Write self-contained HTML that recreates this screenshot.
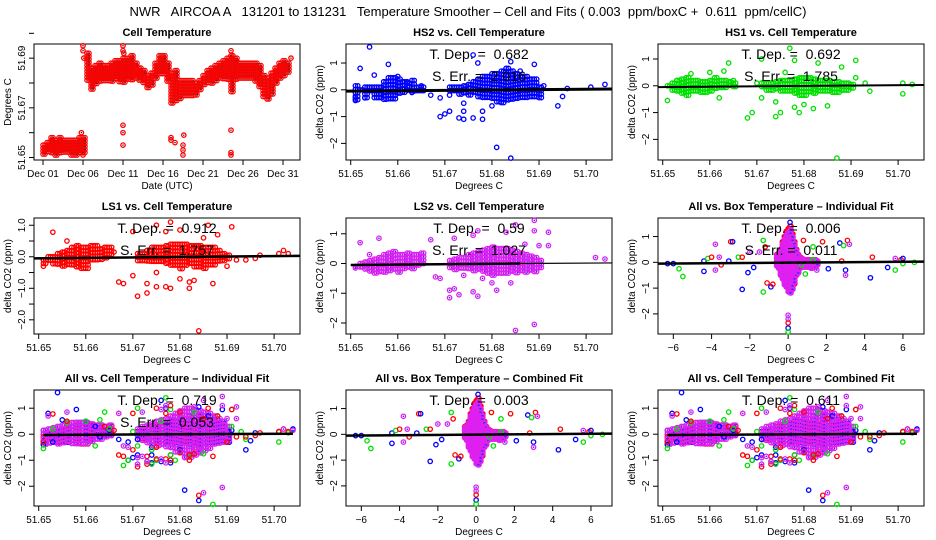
<!DOCTYPE html>
<html><head><meta charset="utf-8"><style>
html,body{margin:0;padding:0;background:#fff;}
svg{display:block;font-family:"Liberation Sans",Arial,sans-serif;}
.pre{white-space:pre;}
</style></head><body>
<svg id="chart" width="936" height="540" viewBox="0 0 936 540">
<text class="pre" xml:space="preserve" x="468" y="16" text-anchor="middle" font-size="13">NWR   AIRCOA A   131201 to 131231   Temperature Smoother – Cell and Fits ( 0.003  ppm/boxC +  0.611  ppm/cellC)</text>
</svg>
<script>
// ---- Panel 1 (cell temperature time series): day index, low and high values ----
const tsDays=[0,0.5,1,1.5,2,2.5,3,3.5,4,4.5,5,5.5,6,6.5,7,7.5,8,8.5,9,9.5,10,10.5,11,11.5,12,12.5,13,13.5,14,14.5,15,15.5,16,16.5,17,17.5,18,18.5,19,19.5,20,20.5,21,21.5,22,22.5,23,23.5,24,24.5,25,25.5,26,26.5,27,27.5,28,28.5,29,29.5,30,30.5];
const tsLo=[51.651,51.652,51.652,51.651,51.652,51.652,51.652,51.651,51.651,51.652,51.652,51.681,51.677,51.679,51.680,51.681,51.681,51.680,51.681,51.680,51.680,51.681,51.681,51.681,51.681,51.680,51.678,51.679,51.682,51.683,51.683,51.680,51.671,51.672,51.673,51.674,51.674,51.675,51.675,51.677,51.679,51.680,51.680,51.681,51.681,51.681,51.681,51.676,51.681,51.681,51.681,51.681,51.681,51.680,51.678,51.674,51.673,51.675,51.679,51.681,51.682,51.684];
const tsHi=[51.655,51.656,51.658,51.657,51.658,51.657,51.657,51.657,51.657,51.658,51.658,51.692,51.686,51.687,51.688,51.687,51.687,51.688,51.689,51.689,51.690,51.690,51.691,51.688,51.686,51.685,51.683,51.684,51.688,51.691,51.691,51.688,51.684,51.685,51.681,51.681,51.681,51.681,51.680,51.681,51.683,51.685,51.686,51.687,51.688,51.689,51.690,51.691,51.690,51.688,51.688,51.688,51.688,51.688,51.687,51.683,51.682,51.684,51.686,51.688,51.689,51.688];
const tsSpikeX=[4.8,5.0,5.0,5.0,5.0,5.1,10.0,10.0,10.0,10.0,10.0,10.1,16.0,16.0,16.5,17.5,17.5,17.5,17.6,23.5,23.5,23.5,23.5,23.5,31.0];
const tsSpikeY=[51.660,51.695,51.693,51.651,51.652,51.690,51.695,51.693,51.663,51.660,51.655,51.692,51.657,51.658,51.656,51.651,51.653,51.655,51.659,51.693,51.691,51.661,51.652,51.651,51.690];

// ---- Cell-temperature scatter panels: dense band (x, low, high) per instrument ----
const bandX=[51.651,51.652,51.653,51.654,51.655,51.656,51.657,51.658,51.659,51.660,51.661,51.662,51.663,51.664,51.665,51.671,51.672,51.673,51.674,51.675,51.676,51.677,51.678,51.679,51.680,51.681,51.682,51.683,51.684,51.685,51.686,51.687,51.688,51.689,51.690];
const hs2Lo=[-0.4,-0.1,-0.3,-0.1,-0.35,-0.3,-0.35,-0.4,-0.35,-0.2,-0.1,-0.1,-0.15,-0.1,-0.05,-0.1,-0.1,-0.2,-0.15,-0.2,-0.2,-0.3,-0.3,-0.35,-0.4,-0.45,-0.5,-0.45,-0.4,-0.4,-0.4,-0.35,-0.3,-0.3,-0.3];
const hs2Hi=[0.15,0,0.1,0.1,0.1,0.1,0.3,0.45,0.45,0.4,0.3,0.25,0.35,0.1,0.1,0.1,0.1,0.1,0.15,0.2,0.3,0.4,0.5,0.5,0.6,0.6,0.7,0.8,0.7,0.6,0.5,0.5,0.4,0.4,0.1];
const hs1Lo=[-0.1,-0.2,-0.25,-0.3,-0.35,-0.3,-0.25,-0.25,-0.25,-0.2,-0.2,-0.15,-0.15,-0.1,-0.1,-0.15,-0.2,-0.2,-0.2,-0.25,-0.3,-0.3,-0.3,-0.35,-0.35,-0.3,-0.3,-0.3,-0.3,-0.3,-0.3,-0.25,-0.2,-0.25,-0.2];
const hs1Hi=[0.0,0.1,0.2,0.25,0.3,0.2,0.2,0.15,0.15,0.2,0.3,0.2,0.2,0.15,0.1,0.1,0.1,0.1,0.15,0.2,0.2,0.2,0.25,0.3,0.3,0.3,0.25,0.2,0.2,0.2,0.15,0.15,0.1,0.1,0.05];
const ls1Lo=[-0.3,-0.15,-0.25,-0.3,-0.3,-0.25,-0.3,-0.35,-0.4,-0.4,-0.2,-0.15,-0.1,-0.05,0.0,-0.15,-0.2,-0.2,-0.2,-0.25,-0.25,-0.3,-0.3,-0.35,-0.4,-0.35,-0.3,-0.35,-0.35,-0.4,-0.35,-0.3,-0.2,-0.15,-0.1];
const ls1Hi=[-0.1,0.0,0.0,0.1,0.15,0.2,0.3,0.35,0.3,0.3,0.35,0.35,0.25,0.3,0.3,0.1,0.1,0.2,0.3,0.3,0.3,0.35,0.4,0.4,0.4,0.4,0.35,0.35,0.35,0.3,0.3,0.3,0.2,0.1,0.05];
const ls2Lo=[-0.15,-0.2,-0.2,-0.25,-0.35,-0.3,-0.35,-0.35,-0.3,-0.3,-0.25,-0.2,-0.2,-0.15,-0.1,-0.15,-0.2,-0.2,-0.25,-0.25,-0.3,-0.3,-0.35,-0.35,-0.4,-0.4,-0.35,-0.35,-0.35,-0.4,-0.35,-0.35,-0.3,-0.3,-0.2];
const ls2Hi=[-0.1,0.0,0.05,0.1,0.15,0.2,0.3,0.35,0.4,0.3,0.3,0.35,0.3,0.3,0.35,0.1,0.15,0.2,0.2,0.3,0.35,0.4,0.45,0.5,0.55,0.5,0.5,0.5,0.45,0.4,0.35,0.3,0.25,0.2,0.1];
const allLo=[-0.4,-0.35,-0.4,-0.4,-0.4,-0.4,-0.4,-0.4,-0.4,-0.45,-0.35,-0.3,-0.3,-0.2,-0.15,-0.3,-0.35,-0.4,-0.4,-0.45,-0.5,-0.55,-0.6,-0.7,-0.8,-0.95,-1.0,-0.9,-0.8,-0.7,-0.6,-0.5,-0.45,-0.4,-0.3];
const allHi=[0.15,0.2,0.25,0.3,0.35,0.4,0.45,0.45,0.45,0.45,0.4,0.35,0.35,0.3,0.35,0.2,0.3,0.35,0.4,0.5,0.55,0.6,0.7,0.8,0.9,1.0,1.0,0.95,0.9,0.85,0.8,0.7,0.6,0.5,0.3];

// ---- Outliers per instrument (cell temperature, delta CO2) ----
const hs2X=[51.654,51.652,51.651,51.651,51.653,51.655,51.658,51.660,51.662,51.663,51.665,51.667,51.669,51.669,51.670,51.671,51.673,51.674,51.674,51.676,51.677,51.676,51.678,51.678,51.680,51.681,51.684,51.684,51.686,51.689,51.691,51.694,51.695,51.696,51.701,51.704,51.674,51.671];
const hs2Y=[1.6,0.8,-0.3,-0.4,-0.3,0.55,0.95,0.5,0.3,-0.1,0.15,-0.2,-0.3,-1.0,-0.9,-0.8,-1.05,-1.1,-0.8,1.3,1.0,-1.05,-1.1,-0.8,-0.6,-2.15,-2.55,1.05,0.7,0.95,0.15,-0.6,-0.25,0.05,0.1,0.2,-0.5,-0.2];
const hs1X=[51.651,51.653,51.656,51.660,51.662,51.663,51.664,51.665,51.668,51.669,51.670,51.671,51.671,51.674,51.675,51.674,51.677,51.678,51.678,51.679,51.680,51.682,51.683,51.685,51.687,51.688,51.691,51.691,51.693,51.694,51.701,51.701,51.703,51.676];
const hs1Y=[-0.55,0.2,0.45,0.5,-0.45,0.55,0.85,0.2,-1.2,-1.0,0.1,1.0,-0.45,-1.15,-1.0,-0.6,1.4,-0.8,0.95,-1.0,-0.7,-0.85,0.85,-0.75,-2.7,0.7,0.95,0.3,0.1,-0.2,0.1,-0.3,0.05,0.5];
const ls1X=[51.653,51.651,51.651,51.656,51.664,51.666,51.667,51.668,51.670,51.670,51.671,51.673,51.673,51.675,51.675,51.677,51.678,51.678,51.677,51.680,51.680,51.682,51.682,51.683,51.684,51.685,51.686,51.687,51.688,51.691,51.692,51.694,51.696,51.697,51.701,51.702,51.703,51.675,51.690];
const ls1Y=[0.78,-0.3,-0.1,0.5,0.3,0.15,-0.8,-0.85,-0.6,0.8,-1.25,-0.85,-1.15,-0.95,1.0,0.8,1.1,-1.0,-0.95,-0.7,0.85,-0.8,-1.0,-0.75,-2.35,0.6,1.0,-0.85,0.7,0.95,-0.1,-0.1,-0.05,0.05,0.1,0.2,0.1,-0.5,-0.3];
const ls2X=[51.651,51.652,51.654,51.656,51.667,51.668,51.669,51.671,51.671,51.672,51.673,51.674,51.672,51.676,51.677,51.676,51.677,51.678,51.680,51.681,51.683,51.685,51.685,51.687,51.689,51.689,51.689,51.690,51.692,51.692,51.702,51.704,51.684];
const ls2Y=[-0.15,0.7,0.3,0.85,0.8,-0.45,-0.5,-0.9,-1.15,-0.85,-1.05,-0.4,0.85,0.95,1.1,-0.95,-1.1,-0.5,-0.65,-0.9,1.05,1.3,-2.25,0.65,1.45,1.1,-2.05,0.6,1.05,0.6,0.2,0.15,-0.65];

// ---- Box-temperature panels: dense spike band and outliers ----
const boxBandX=[-0.6,-0.5,-0.4,-0.3,-0.2,-0.1,0.0,0.1,0.2,0.3,0.4,0.5,0.6,0.7,0.8,0.9,1.0,1.1,1.2,1.3,1.4,1.5];
const boxBandLo=[-0.2,-0.3,-0.5,-0.7,-0.9,-1.0,-1.15,-1.2,-1.1,-0.9,-0.6,-0.45,-0.35,-0.25,-0.2,-0.2,-0.2,-0.2,-0.25,-0.3,-0.3,-0.2];
const boxBandHi=[0.3,0.35,0.5,0.8,1.0,1.2,1.3,1.4,1.1,0.8,0.5,0.3,0.2,0.15,0.1,0.1,0.1,0.1,0.05,0.1,0.1,0.05];
const boxX=[-6.3,-6.0,-5.7,-5.5,-4.4,-4.4,-4.2,-4.0,-3.8,-3.8,-3.6,-3.5,-3.0,-2.9,-3.1,-2.6,-2.4,-2.4,-2.1,-2.0,-1.8,-1.5,-1.3,-1.3,-1.2,-1.1,-0.9,-0.8,0,0,0,0,0,0.1,0.8,0.7,0.9,1.3,1.3,1.5,1.8,2.1,2.8,2.7,2.9,3.0,3.0,3.1,3.2,4.3,4.4,5.2,5.6,5.6,5.9,6.0,6.0,6.6];
const boxY=[-0.05,-0.05,-0.25,-0.55,0.05,-0.35,0.15,0.2,0.7,-0.3,0.2,-0.1,0.8,0.8,0.05,0.2,-1.05,0.2,-0.4,0.4,-0.2,0.4,0.85,-1.15,0.6,-0.8,-0.95,-0.85,-2.05,-2.2,-2.35,-2.55,-2.7,1.55,0.85,-0.1,-0.45,0.6,0.1,-0.3,0.8,-0.25,0.05,0.75,0.65,-0.3,-0.5,0.85,0.7,-0.6,0.2,-0.2,0.15,-0.3,0.1,0.15,-0.05,0.0];
const boxC=["b","b","g","g","b","b","g","r","m","m","m","r","r","b","b","g","b","r","b","m","b","m","g","g","r","r","b","r","m","m","r","b","g","b","r","g","g","g","g","m","r","b","r","b","g","b","m","r","m","b","r","b","m","g","r","b","g","g"];

const COL={b:"#0000ff",g:"#00e000",r:"#ff0000",m:"#e020f0"};
const svg=document.getElementById('chart');
const NS="http://www.w3.org/2000/svg";
const VSTEP=3.5;
function el(tag,attrs,parent){const e=document.createElementNS(NS,tag);for(const k in attrs)e.setAttribute(k,attrs[k]);(parent||svg).appendChild(e);return e;}
function txt(x,y,s,size,anchor,parent,rot,weight){const t=el('text',{x:x,y:y,'font-size':size,'text-anchor':anchor||'middle'},parent);if(rot)t.setAttribute('transform','rotate(-90 '+x+' '+y+')');if(weight)t.setAttribute('font-weight',weight);t.textContent=s;return t;}

function makePanel(name,L,T,W,H,xlim,ylim){
  const g=el('g',{},svg);
  
  
  const X=v=>L+(v-xlim[0])/(xlim[1]-xlim[0])*W;
  const Y=v=>T+H-(v-ylim[0])/(ylim[1]-ylim[0])*H;
  return {g,X,Y,L,T,W,H};
}
function frame(p,title,xlabel,ylabel,xticks,xlabs,yticks,ylabs){
  const r=el('rect',{x:p.L,y:p.T,width:p.W,height:p.H,fill:'none',stroke:'#000','stroke-width':1},p.g);
  
  
  const t=txt(p.L+p.W/2,p.T-8,title,11,'middle',p.g,false,'bold');
  
  
  xticks.forEach((v,i)=>{const x=p.X(v);el('line',{x1:x,y1:p.T+p.H,x2:x,y2:p.T+p.H+5,stroke:'#000'},p.g);
    if(xlabs[i]!==''){const l=txt(x,p.T+p.H+17,xlabs[i],10,'middle',p.g);}});
  yticks.forEach((v,i)=>{const y=p.Y(v);el('line',{x1:p.L,y1:y,x2:p.L-5,y2:y,stroke:'#000'},p.g);
    if(ylabs[i]!==''){const l=txt(p.L-9,y,ylabs[i],10,'middle',p.g,true);}});
  const xl=txt(p.L+p.W/2,p.T+p.H+29,xlabel,10,'middle',p.g);
  
  
  const yl=txt(p.L-23,p.T+p.H/2,ylabel,10,'middle',p.g,true);
  
  
}
function pt(p,x,y,c){
  const e=el('circle',{cx:p.X(x),cy:p.Y(y),r:2.2,fill:'none',stroke:COL[c],'stroke-width':1.3},p.g);
  
  
  if(c==='m'){el('circle',{cx:p.X(x),cy:p.Y(y),r:0.8,fill:'#2030ff'},p.g);}
  if(c==='r'&&p.dark){el('circle',{cx:p.X(x),cy:p.Y(y),r:0.7,fill:'#300'},p.g);}
}
function band(p,xs,lo,hi,c,dx){
  xs.forEach((x,i)=>{[0,0.5].forEach(s=>{const xv=x+s*dx;const y1=p.Y(hi[i]),y2=p.Y(lo[i]);
    for(let y=y1;y<=y2+0.1;y+=VSTEP){const e=el('circle',{cx:p.X(xv),cy:y,r:2.2,fill:'none',stroke:COL[c],'stroke-width':1.3},p.g);
      
      
      if(c==='m')el('circle',{cx:p.X(xv),cy:y,r:0.8,fill:'#2030ff'},p.g);}});});
}
function fit(p,x0,y0,x1,y1,w){const l=el('line',{x1:p.X(x0),y1:p.Y(y0),x2:p.X(x1),y2:p.Y(y1),stroke:'#000','stroke-width':w},p.g);
  
  }
function stats(p,a,b){const t=txt(p.L+p.W/2,p.T+15,a,14,'middle',p.g);t.setAttribute('class','pre');
  if(b){const s=txt(p.L+p.W/2,p.T+37,b,14,'middle',p.g);s.setAttribute('class','pre');}}

const cellXlim=[51.649,51.7055], boxXlim=[-6.8,7.1];
const cellTicks=[51.65,51.66,51.67,51.68,51.69,51.70], cellLabs=['51.65','51.66','51.67','51.68','51.69','51.70'];
const boxTicks=[-6,-4,-2,0,2,4,6], boxLabs=['−6','−4','−2','0','2','4','6'];
const yT=[-2,-1,0,1], yL=['−2','−1','0','1'];
const colL=[34,346,658], rowT=[44,218,390], PW=266, PH=116;

// Panel 1: cell temperature time series
{const p=makePanel('cell-temperature-panel',colL[0],rowT[0],PW,PH,[-1.125,32.125],[51.649,51.6957]);p.dark=true;
 frame(p,'Cell Temperature','Date (UTC)','Degrees C',[0,5,10,15,20,25,30],['Dec 01','Dec 06','Dec 11','Dec 16','Dec 21','Dec 26','Dec 31'],[51.65,51.66,51.67,51.68,51.69,51.70],['51.65','','51.67','','51.69','']);
 tsDays.forEach((d,i)=>{[0,0.25].forEach(s=>{const y1=p.Y(tsHi[i]),y2=p.Y(tsLo[i]);
   for(let y=y1;y<=y2+0.1;y+=3){const e=el('circle',{cx:p.X(d+s),cy:y,r:2.2,fill:'none',stroke:'#f00','stroke-width':1.2},p.g);
     
     
     el('circle',{cx:p.X(d+s),cy:y,r:0.8,fill:'#300'},p.g);}});});
 tsSpikeX.forEach((d,i)=>pt(p,d,tsSpikeY[i],'r'));}

// Individual cell panels
function cellPanel(name,col,row,title,ylim,lo,hi,ox,oy,c,fitW,a,b,yt,yl,partial){
  const p=makePanel(name,colL[col],rowT[row],PW,PH,cellXlim,ylim);
  frame(p,title,'Degrees C','delta CO2 (ppm)',cellTicks,cellLabs,yt||yT,yl||yL);
  band(p,bandX,lo,hi,c,0.001);
  ox.forEach((x,i)=>pt(p,x,oy[i],c));
  if(partial){fit(p,51.65,-0.05,51.686,0.0,2.5);fit(p,51.686,0.0,51.7055,0.02,1.2);}
  else fit(p,51.649,-0.05,51.7055,0.03,fitW);
  stats(p,a,b);
}
cellPanel('hs2-panel',1,0,'HS2 vs. Cell Temperature',[-2.62,1.71],hs2Lo,hs2Hi,hs2X,hs2Y,'b',3,'T. Dep. =  0.682','S. Err. =  2.016');
cellPanel('hs1-panel',2,0,'HS1 vs. Cell Temperature',[-2.77,1.56],hs1Lo,hs1Hi,hs1X,hs1Y,'g',2,'T. Dep. =  0.692','S. Err. =  1.785');
cellPanel('ls1-panel',0,1,'LS1 vs. Cell Temperature',[-2.45,1.23],ls1Lo,ls1Hi,ls1X,ls1Y,'r',2.5,'T. Dep. =  0.912','S. Err. =  1.757',[-2,-1.5,-1,-0.5,0,0.5,1],['−2.0','','−1.0','','0.0','','1.0']);
cellPanel('ls2-panel',1,1,'LS2 vs. Cell Temperature',[-2.37,1.53],ls2Lo,ls2Hi,ls2X,ls2Y,'m',2.5,'T. Dep. =  0.59','S. Err. =  1.027',null,null,true);

// Box panels
function boxPanel(name,col,row,title,a,b){
  const p=makePanel(name,colL[col],rowT[row],PW,PH,boxXlim,[-2.78,1.72]);
  frame(p,title,'Degrees C','delta CO2 (ppm)',boxTicks,boxLabs,yT,yL);
  band(p,boxBandX,boxBandLo.map(v=>v*0.95),boxBandHi,'r',0.1);
  band(p,boxBandX,boxBandLo,boxBandHi.map(v=>v*0.9),'m',0.1);
  boxX.forEach((x,i)=>pt(p,x,boxY[i],boxC[i]));
  fit(p,-6.8,-0.05,7.1,0.03,2.5);
  stats(p,a,b);
}
boxPanel('all-box-individual-panel',2,1,'All vs. Box Temperature – Individual Fit','T. Dep. =  0.006','S. Err. =  0.011');
boxPanel('all-box-combined-panel',1,2,'All vs. Box Temperature – Combined Fit','T. Dep. =  0.003',null);

// Combined cell panels
function allCellPanel(name,col,title,a,b){
  const p=makePanel(name,colL[col],rowT[2],PW,PH,cellXlim,[-2.76,1.7]);
  frame(p,title,'Degrees C','delta CO2 (ppm)',cellTicks,cellLabs,yT,yL);
  band(p,bandX,ls1Lo,ls1Hi,'r',0.001);
  band(p,bandX,hs2Lo,hs2Hi,'b',0.001);
  band(p,bandX,allLo,allHi,'m',0.001);
  hs2X.forEach((x,i)=>pt(p,x,hs2Y[i],'b'));
  hs1X.forEach((x,i)=>pt(p,x,hs1Y[i],'g'));
  ls1X.forEach((x,i)=>pt(p,x,ls1Y[i],'r'));
  ls2X.forEach((x,i)=>pt(p,x,ls2Y[i],'m'));
  fit(p,51.651,-0.03,51.704,0.02,2.5);
  stats(p,a,b);
}
allCellPanel('all-cell-individual-panel',0,'All vs. Cell Temperature – Individual Fit','T. Dep. =  0.719','S. Err. =  0.053');
allCellPanel('all-cell-combined-panel',2,'All vs. Cell Temperature – Combined Fit','T. Dep. =  0.611',null);
</script>
</body></html>
